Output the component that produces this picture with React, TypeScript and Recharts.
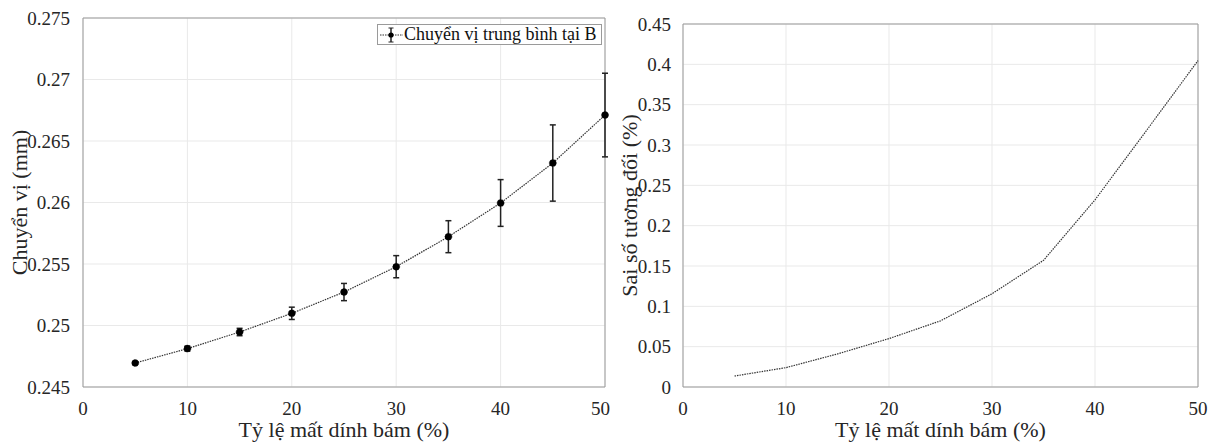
import React from 'react';
import {
  LineChart,
  Line,
  XAxis,
  YAxis,
  CartesianGrid,
  ErrorBar,
  ReferenceLine,
  Legend,
  Label,
} from 'recharts';

// ─── Data ─────────────────────────────────────────────────────────────

// bond-loss ratio (%) on the x axis of both panels
const lossRatio = [5, 10, 15, 20, 25, 30, 35, 40, 45, 50];
// mean displacement at B (mm) and its error half-width
const meanDisp = [0.24695, 0.24812, 0.24947, 0.25099, 0.25272, 0.25478, 0.25722, 0.25996, 0.26321, 0.26711];
const dispErr = [0.0001, 0.0002, 0.0003, 0.0005, 0.0007, 0.0009, 0.0013, 0.0019, 0.0031, 0.0034];
// relative error (%)
const relError = [0.0136, 0.024, 0.041, 0.06, 0.082, 0.1156, 0.157, 0.232, 0.318, 0.4046];

const xTicks = [0, 10, 20, 30, 40, 50];
const dispTicks = [0.245, 0.25, 0.255, 0.26, 0.265, 0.27, 0.275];
const errTicks = [0, 0.05, 0.1, 0.15, 0.2, 0.25, 0.3, 0.35, 0.4, 0.45];

const dispData = lossRatio.map((x, i) => ({ x, y: meanDisp[i], err: dispErr[i] }));
const errData = lossRatio.map((x, i) => ({ x, y: relError[i] }));

// ─── Style ────────────────────────────────────────────────────────────

const FONT = 'Liberation Serif, DejaVu Serif, serif';
const AXIS = '#9a9a9a';
const GRID = '#e9e9e9';
const TEXT = '#262626';
const tickStyle = { fontSize: 19, fill: TEXT, fontFamily: FONT, style: { fontFamily: FONT } };

const YTitle = ({ viewBox, text, left }: any) => {
  const cx = viewBox.x + left;
  const cy = viewBox.y + viewBox.height / 2;
  return (
    <text
      x={cx}
      y={cy}
      transform={`rotate(-90, ${cx}, ${cy})`}
      textAnchor="middle"
      dominantBaseline="central"
      fontSize={22}
      style={{ fontFamily: FONT }}
      fill={TEXT}
    >
      {text}
    </text>
  );
};

const XTitle = ({ viewBox, text }: any) => (
  <text
    x={viewBox.x + viewBox.width / 2}
    y={viewBox.y + 50}
    textAnchor="middle"
    fontSize={22}
    style={{ fontFamily: FONT }}
    fill={TEXT}
  >
    {text}
  </text>
);

const LegendBox = () => (
  <div
    style={{
      display: 'flex',
      alignItems: 'center',
      border: `1px solid ${AXIS}`,
      background: '#fff',
      height: 21,
      boxSizing: 'border-box',
      fontFamily: FONT,
      fontSize: 18,
      color: '#111',
      whiteSpace: 'nowrap',
      paddingRight: 4,
    }}
  >
    <svg width={26} height={20} style={{ flex: 'none' }}>
      <line x1={2} y1={10} x2={25} y2={10} stroke="#333" strokeDasharray="1.5 1" />
      <line x1={13} y1={3} x2={13} y2={17} stroke="#222" strokeWidth={1.5} />
      <line x1={10.5} y1={3} x2={15.5} y2={3} stroke="#222" />
      <line x1={10.5} y1={17} x2={15.5} y2={17} stroke="#222" />
      <circle cx={13} cy={10} r={2.6} fill="#000" />
    </svg>
    <span style={{ lineHeight: '19px' }}>Chuyển vị trung bình tại B</span>
  </div>
);

// ─── Component ────────────────────────────────────────────────────────

export default function App() {
  return (
    <div
      style={{
        position: 'absolute',
        left: 0,
        top: 0,
        width: 1216,
        height: 443,
        background: '#fff',
        overflow: 'hidden',
        fontFamily: FONT,
      }}
    >
      {/* Left panel: mean displacement with error bars */}
      <div style={{ position: 'absolute', left: 0, top: 0 }}>
        <LineChart width={610} height={443} data={dispData} margin={{ top: 18, right: 5, bottom: 0, left: 0 }}>
          <CartesianGrid stroke={GRID} />
          <XAxis
            dataKey="x"
            type="number"
            domain={[0, 50]}
            ticks={xTicks}
            stroke={AXIS}
            tickLine={false}
            tickMargin={9}
            height={56}
            tick={tickStyle}
          >
            <Label content={(p: any) => <XTitle {...p} text="Tỷ lệ mất dính bám (%)" />} />
          </XAxis>
          <YAxis
            type="number"
            domain={[0.245, 0.275]}
            ticks={dispTicks}
            stroke={AXIS}
            tickLine={false}
            tickMargin={7}
            width={83}
            tick={tickStyle}
            tickFormatter={(v) => String(v)}
          >
            <Label content={(p: any) => <YTitle {...p} text="Chuyển vị (mm)" left={19} />} />
          </YAxis>
          <ReferenceLine y={0.275} stroke={AXIS} />
          <ReferenceLine x={50} stroke={AXIS} />
          <Legend
            layout="vertical"
            align="center"
            verticalAlign="middle"
            content={() => <LegendBox />}
            wrapperStyle={{ top: 24, left: 377, width: 'auto', height: 21 }}
          />
          <Line
            dataKey="y"
            type="linear"
            stroke="#333"
            strokeWidth={1.2}
            strokeDasharray="1.5 1"
            dot={{ r: 3.5, fill: '#000', stroke: '#000', strokeWidth: 0.5 }}
            activeDot={false}
            isAnimationActive={false}
          >
            <ErrorBar dataKey="err" direction="y" width={3} stroke="#222" strokeWidth={1.5} isAnimationActive={false} />
          </Line>
        </LineChart>
      </div>

      {/* Right panel: relative error */}
      <div style={{ position: 'absolute', left: 610, top: 0 }}>
        <LineChart width={606} height={443} data={errData} margin={{ top: 24, right: 18, bottom: 0, left: 0 }}>
          <CartesianGrid stroke={GRID} />
          <XAxis
            dataKey="x"
            type="number"
            domain={[0, 50]}
            ticks={xTicks}
            stroke={AXIS}
            tickLine={false}
            tickMargin={9}
            height={56}
            tick={tickStyle}
          >
            <Label content={(p: any) => <XTitle {...p} text="Tỷ lệ mất dính bám (%)" />} />
          </XAxis>
          <YAxis
            type="number"
            domain={[0, 0.45]}
            ticks={errTicks}
            stroke={AXIS}
            tickLine={false}
            tickMargin={6}
            width={73}
            tick={tickStyle}
            tickFormatter={(v) => String(v)}
          >
            <Label content={(p: any) => <YTitle {...p} text="Sai số tương đối (%)" left={19} />} />
          </YAxis>
          <ReferenceLine y={0.45} stroke={AXIS} />
          <ReferenceLine x={50} stroke={AXIS} />
          <Line
            dataKey="y"
            type="linear"
            stroke="#333"
            strokeWidth={1.2}
            strokeDasharray="1.5 1"
            dot={false}
            activeDot={false}
            isAnimationActive={false}
          />
        </LineChart>
      </div>
    </div>
  );
}
